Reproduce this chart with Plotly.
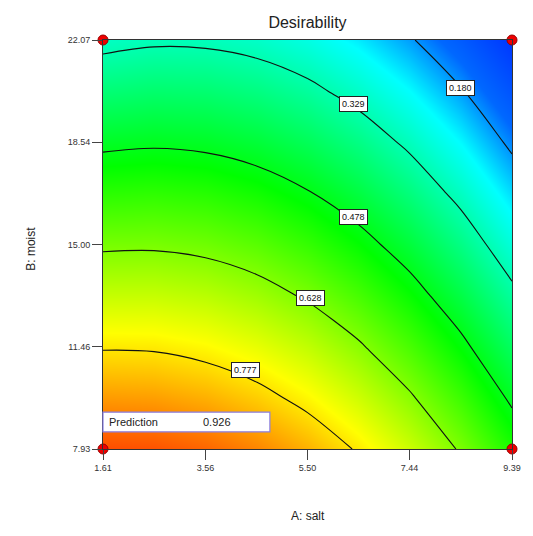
import plotly.graph_objects as go

# ---- data ----
salt = [1.61, 2.58, 3.56, 4.53, 5.50, 6.47, 7.44, 8.42, 9.39]
moist = [7.93, 9.70, 11.46, 13.23, 15.00, 16.77, 18.54, 20.30, 22.07]
desirability = [
    [0.926, 0.920, 0.901, 0.870, 0.826, 0.770, 0.701, 0.620, 0.526],
    [0.849, 0.845, 0.828, 0.799, 0.757, 0.703, 0.637, 0.558, 0.466],
    [0.772, 0.770, 0.755, 0.728, 0.689, 0.637, 0.572, 0.495, 0.406],
    [0.694, 0.694, 0.682, 0.657, 0.620, 0.570, 0.508, 0.433, 0.346],
    [0.617, 0.619, 0.609, 0.587, 0.551, 0.504, 0.444, 0.371, 0.286],
    [0.540, 0.544, 0.536, 0.516, 0.483, 0.437, 0.379, 0.309, 0.226],
    [0.463, 0.469, 0.463, 0.445, 0.414, 0.371, 0.315, 0.247, 0.166],
    [0.385, 0.394, 0.390, 0.374, 0.346, 0.304, 0.251, 0.185, 0.106],
    [0.308, 0.319, 0.317, 0.304, 0.277, 0.238, 0.187, 0.123, 0.046],
]
contour_levels = [0.180, 0.329, 0.478, 0.628, 0.777]
label_salt = [8.41, 6.37, 6.37, 5.56, 4.32]
label_moist = [20.41, 19.86, 15.95, 13.15, 10.66]
x_ticks = ["1.61", "3.56", "5.50", "7.44", "9.39"]
y_ticks = ["7.93", "11.46", "15.00", "18.54", "22.07"]
corner_salt = [1.61, 9.39, 1.61, 9.39]
corner_moist = [22.07, 22.07, 7.93, 7.93]
prediction_value = "0.926"

FONT = "Liberation Sans Narrow, Arial Narrow, Liberation Sans, Arial"

colorscale = [
    [0.0, "#0020ff"],
    [0.15, "#0068ff"],
    [0.25, "#00ffff"],
    [0.5, "#00ff00"],
    [0.75, "#ffff00"],
    [1.0, "#ff0000"],
]

fig = go.Figure()
fig.add_trace(go.Heatmap(
    x=salt, y=moist, z=desirability, zmin=0, zmax=1,
    colorscale=colorscale, zsmooth="best", showscale=False, hoverinfo="skip",
))
for lvl in contour_levels:
    fig.add_trace(go.Contour(
        x=salt, y=moist, z=desirability,
        autocontour=False,
        contours=dict(start=lvl, end=lvl, size=1, coloring="none", showlabels=False),
        line=dict(color="#111111", width=1.1),
        showscale=False, hoverinfo="skip",
    ))
fig.add_trace(go.Scatter(
    x=corner_salt, y=corner_moist, mode="markers",
    marker=dict(color="#ee0000", size=10, line=dict(color="#990000", width=1)),
    cliponaxis=False, hoverinfo="skip", showlegend=False,
))

annotations = []
for lvl, lx, ly in zip(contour_levels, label_salt, label_moist):
    annotations.append(dict(
        x=lx, y=ly, xref="x", yref="y", text=f"{lvl:.3f}", showarrow=False,
        font=dict(family=FONT, size=9, color="#111111"),
        bgcolor="white", bordercolor="#222222", borderwidth=1, borderpad=2,
    ))

# Prediction box
shapes = [dict(type="rect", xref="paper", yref="paper", x0=0.0, x1=0.408,
               y0=0.042, y1=0.090, fillcolor="white",
               line=dict(color="#8a80e8", width=1.2), layer="above")]
annotations.append(dict(x=0.010, y=0.066, xref="paper", yref="paper", text="Prediction",
                        xanchor="left", yanchor="middle", showarrow=False,
                        font=dict(family=FONT, size=11, color="#222222")))
annotations.append(dict(x=0.24, y=0.066, xref="paper", yref="paper", text=prediction_value,
                        xanchor="left", yanchor="middle", showarrow=False,
                        font=dict(family=FONT, size=11, color="#222222")))
# axis titles
annotations.append(dict(x=0.5, y=-0.186, xref="paper", yref="paper", text="A: salt",
                        showarrow=False, font=dict(family=FONT, size=12, color="#222222")))
annotations.append(dict(x=-0.200, y=0.49, xref="paper", yref="paper", text="B: moist",
                        textangle=-90, showarrow=False,
                        font=dict(family=FONT, size=12, color="#222222")))

fig.update_layout(
    width=533, height=536,
    margin=dict(l=103, r=16, t=40, b=87),
    paper_bgcolor="white", plot_bgcolor="white",
    showlegend=False,
    title=dict(text="Desirability", x=0.5, xref="paper", y=1 - 22 / 536, yref="container",
               xanchor="center", yanchor="middle",
               font=dict(family=FONT, size=16, color="#222222")),
    xaxis=dict(range=[1.61, 9.39], tickvals=[salt[i] for i in (0, 2, 4, 6, 8)], ticktext=x_ticks,
               ticks="outside", ticklen=10, tickcolor="#444444", showgrid=False, zeroline=False,
               showline=True, linecolor="#333333", mirror=True,
               tickfont=dict(family=FONT, size=9, color="#333333")),
    yaxis=dict(range=[7.93, 22.07], tickvals=[moist[i] for i in (0, 2, 4, 6, 8)], ticktext=y_ticks,
               ticks="outside", ticklen=10, tickcolor="#444444", showgrid=False, zeroline=False,
               showline=True, linecolor="#333333", mirror=True,
               tickfont=dict(family=FONT, size=9, color="#333333")),
    annotations=annotations,
    shapes=shapes,
)
fig.write_html("out.html", config={"displayModeBar": False},
               post_script="document.body.style.margin='0';")
